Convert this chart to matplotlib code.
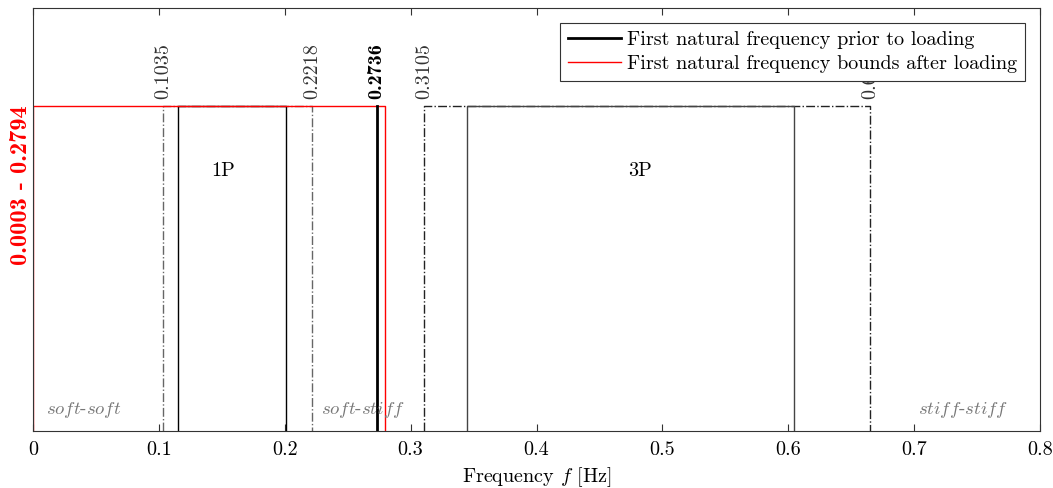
import matplotlib
matplotlib.use('Agg')
import matplotlib.pyplot as plt

plt.rcParams['font.family'] = 'serif'
plt.rcParams['font.serif'] = ['cmr10']
plt.rcParams['mathtext.fontset'] = 'cm'
plt.rcParams['axes.unicode_minus'] = False
plt.rcParams['axes.formatter.use_mathtext'] = True

# frequency bands [Hz]
band_1p = (0.115, 0.201)
band_1p_margin = (0.1035, 0.2218)
band_3p = (0.345, 0.6048)
band_3p_margin = (0.3105, 0.6653)
f_prior = 0.2736
f_after = (0.0003, 0.2794)

region_names = ['soft-soft', 'soft-stiff', 'stiff-stiff']
region_x = [0.010, 0.229, 0.703]
band_names = ['1P', '3P']
band_name_x = [0.151, 0.482]
xticks = [0, 0.1, 0.2, 0.3, 0.4, 0.5, 0.6, 0.7, 0.8]

H = 1.0          # box height
FS = 14.5
grey = '#666666'

fig = plt.figure(figsize=(10.53, 4.88), dpi=100)
ax = fig.add_axes([0.0313, 0.1168, 0.9564, 0.8668])


def box(ax, lo, hi, **kw):
    return ax.plot([lo, lo, hi, hi], [0, H, H, 0], **kw)


box(ax, *band_1p_margin, ls='-.', color=grey, lw=1.0)
box(ax, *band_3p_margin, ls='-.', color='#222222', lw=1.0)
box(ax, *band_1p, color='black', lw=1.0)
box(ax, *band_3p, color='#444444', lw=1.0)

l_after, = box(ax, *f_after, color='red', lw=1.0)
l_prior, = ax.plot([f_prior, f_prior], [0, H], color='black', lw=2.0)

# margin labels above the boxes
for v in list(band_1p_margin) + list(band_3p_margin):
    ax.text(v, H + 0.02, f'{v:.4f}', rotation=90, ha='center', va='bottom',
            fontsize=FS, color='#333333')
ax.text(f_prior - 0.001, H + 0.02, f'{f_prior:.4f}', rotation=90, ha='center',
        va='bottom', fontsize=FS, fontfamily='cmb10', color='black')

ax.text(-0.001, H, f'{f_after[0]:.4f} - {f_after[1]:.4f}', rotation=90,
        ha='right', va='top', fontsize=17.5, fontfamily='cmb10', color='red')

for name, x in zip(band_names, band_name_x):
    ax.text(x, 0.80, name, ha='center', va='center', fontsize=FS)

for name, x in zip(region_names, region_x):
    a, b = name.split('-')
    ax.text(x, 0.065, rf'$\mathit{{{a}}}$-$\mathit{{{b}}}$', ha='left',
            va='center', fontsize=13.5, color='#777777')

ax.set_xlim(0, 0.8)
ax.set_ylim(0, 1.3)
ax.set_xticks(xticks)
ax.set_xticklabels([f'{t:g}' for t in xticks])
ax.set_yticks([])
ax.tick_params(axis='x', direction='in', top=True, length=5, labelsize=FS,
               color='#333333', pad=7)
for s in ax.spines.values():
    s.set_color('#333333')
    s.set_linewidth(0.8)
ax.set_xlabel('Frequency $f$ [Hz]', fontsize=FS, labelpad=5)

leg = ax.legend([l_prior, l_after],
                ['First natural frequency prior to loading',
                 'First natural frequency bounds after loading'],
                loc='upper right', fontsize=FS, fancybox=False,
                edgecolor='#333333', framealpha=1, handlelength=2.6,
                borderpad=0.4, labelspacing=0.3, handletextpad=0.3,
                borderaxespad=0, bbox_to_anchor=(0.985, 0.965))
leg.get_frame().set_linewidth(0.8)
leg.set_zorder(10)

fig.savefig('out.png', dpi=100)
